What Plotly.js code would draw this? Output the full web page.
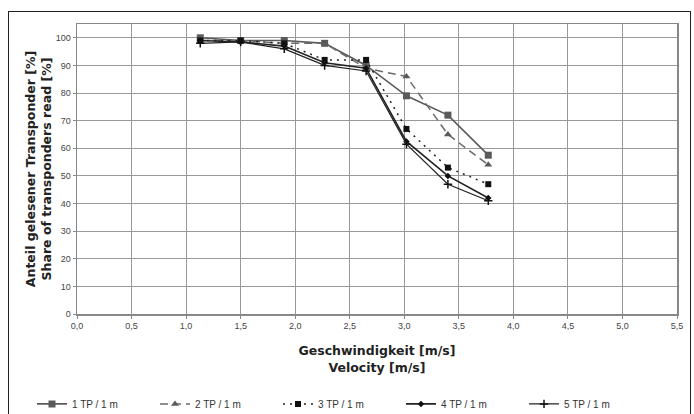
<!DOCTYPE html>
<html>
<head>
<meta charset="utf-8">
<script src="https://cdn.plot.ly/plotly-3.0.1.min.js"></script>
<style>
html,body{margin:0;padding:0;background:#fff;}
#wrap{position:relative;width:694px;height:414px;overflow:hidden;}
#chart{width:694px;height:414px;}
#frame{position:absolute;left:8px;top:11px;width:681px;height:420px;border:1.5px solid #222;pointer-events:none;}
</style>
</head>
<body>
<div id="wrap"><div id="chart"></div><div id="frame"></div></div>
<script>
const velocity = [1.13, 1.5, 1.9, 2.27, 2.65, 3.02, 3.4, 3.77];
const seriesNames = ['1 TP / 1 m', '2 TP / 1 m', '3 TP / 1 m', '4 TP / 1 m', '5 TP / 1 m'];
const tp1 = [100, 99, 99, 98, 90, 79, 72, 57.5];
const tp2 = [99, 99, 98, 98, 89, 86, 65, 54];
const tp3 = [99, 99, 98, 92, 92, 67, 53, 47];
const tp4 = [99, 98.5, 97, 91, 89, 62.5, 50, 42];
const tp5 = [98, 98.5, 96, 90, 88, 61.5, 47, 41];
const xTicks = [0, 0.5, 1, 1.5, 2, 2.5, 3, 3.5, 4, 4.5, 5, 5.5];
const xTickText = ['0,0','0,5','1,0','1,5','2,0','2,5','3,0','3,5','4,0','4,5','5,0','5,5'];
const yTicks = [0, 10, 20, 30, 40, 50, 60, 70, 80, 90, 100];
const yTickText = ['0','10','20','30','40','50','60','70','80','90','100'];

const styles = [
  {line:{color:'#5a5a5a', width:1.6, dash:'solid'}, marker:{symbol:'square', size:7, color:'#5a5a5a'}},
  {line:{color:'#6a6a6a', width:1.5, dash:'8px,5px'}, marker:{symbol:'triangle-up', size:7, color:'#5a5a5a'}},
  {line:{color:'#222', width:1.5, dash:'2px,5px'}, marker:{symbol:'square', size:6, color:'#111'}},
  {line:{color:'#222', width:1.6, dash:'solid'}, marker:{symbol:'diamond', size:5, color:'#111'}},
  {line:{color:'#222', width:1.2, dash:'solid'}, marker:{symbol:'cross-thin-open', size:6, color:'#111', line:{width:1.5, color:'#111'}}}
];
const data = [tp1, tp2, tp3, tp4, tp5].map((ys, i) => ({
  x: velocity, y: ys, name: seriesNames[i], type:'scatter', mode:'lines+markers',
  line: styles[i].line, marker: styles[i].marker, cliponaxis:false
}));

const titleFont = {family:'DejaVu Sans, sans-serif', size:12.5, color:'#222'};
const layout = {
  width:694, height:414,
  margin:{l:77, r:17, t:24, b:100, autoexpand:false},
  paper_bgcolor:'#fff', plot_bgcolor:'#fff',
  font:{family:'Liberation Sans, Arial, sans-serif', color:'#333', size:9},
  showlegend:true,
  legend:{orientation:'h', x:-0.075, y:-0.26, xanchor:'left', yanchor:'top',
    entrywidth:78, font:{size:10, color:'#333'}, itemwidth:30, tracegroupgap:0, bgcolor:'rgba(0,0,0,0)'},
  xaxis:{range:[0,5.5], tickmode:'array', tickvals:xTicks, ticktext:xTickText, showgrid:true, gridcolor:'#999', gridwidth:1,
    zeroline:false, showline:true, linecolor:'#888', linewidth:1.5, mirror:true, automargin:false,
    ticks:'outside', ticklen:3, tickcolor:'#888', tickfont:{size:9, color:'#444'},
    title:{text:'<b>Geschwindigkeit [m/s]</b><br><b>Velocity [m/s]</b>', font:titleFont, standoff:16}},
  yaxis:{range:[0,105], tickmode:'array', tickvals:yTicks, ticktext:yTickText, showgrid:true, gridcolor:'#999', gridwidth:1,
    zeroline:false, showline:true, linecolor:'#888', linewidth:1.5, mirror:true, automargin:false,
    ticks:'outside', ticklen:3, tickcolor:'#888', tickfont:{size:9, color:'#444'},
    title:{text:'<b>Anteil gelesener Transponder [%]</b><br><b>Share of transponders read [%]</b>', font:titleFont, standoff:1}}
};
Plotly.newPlot('chart', data, layout, {displayModeBar:false, staticPlot:true});
</script>
</body>
</html>
